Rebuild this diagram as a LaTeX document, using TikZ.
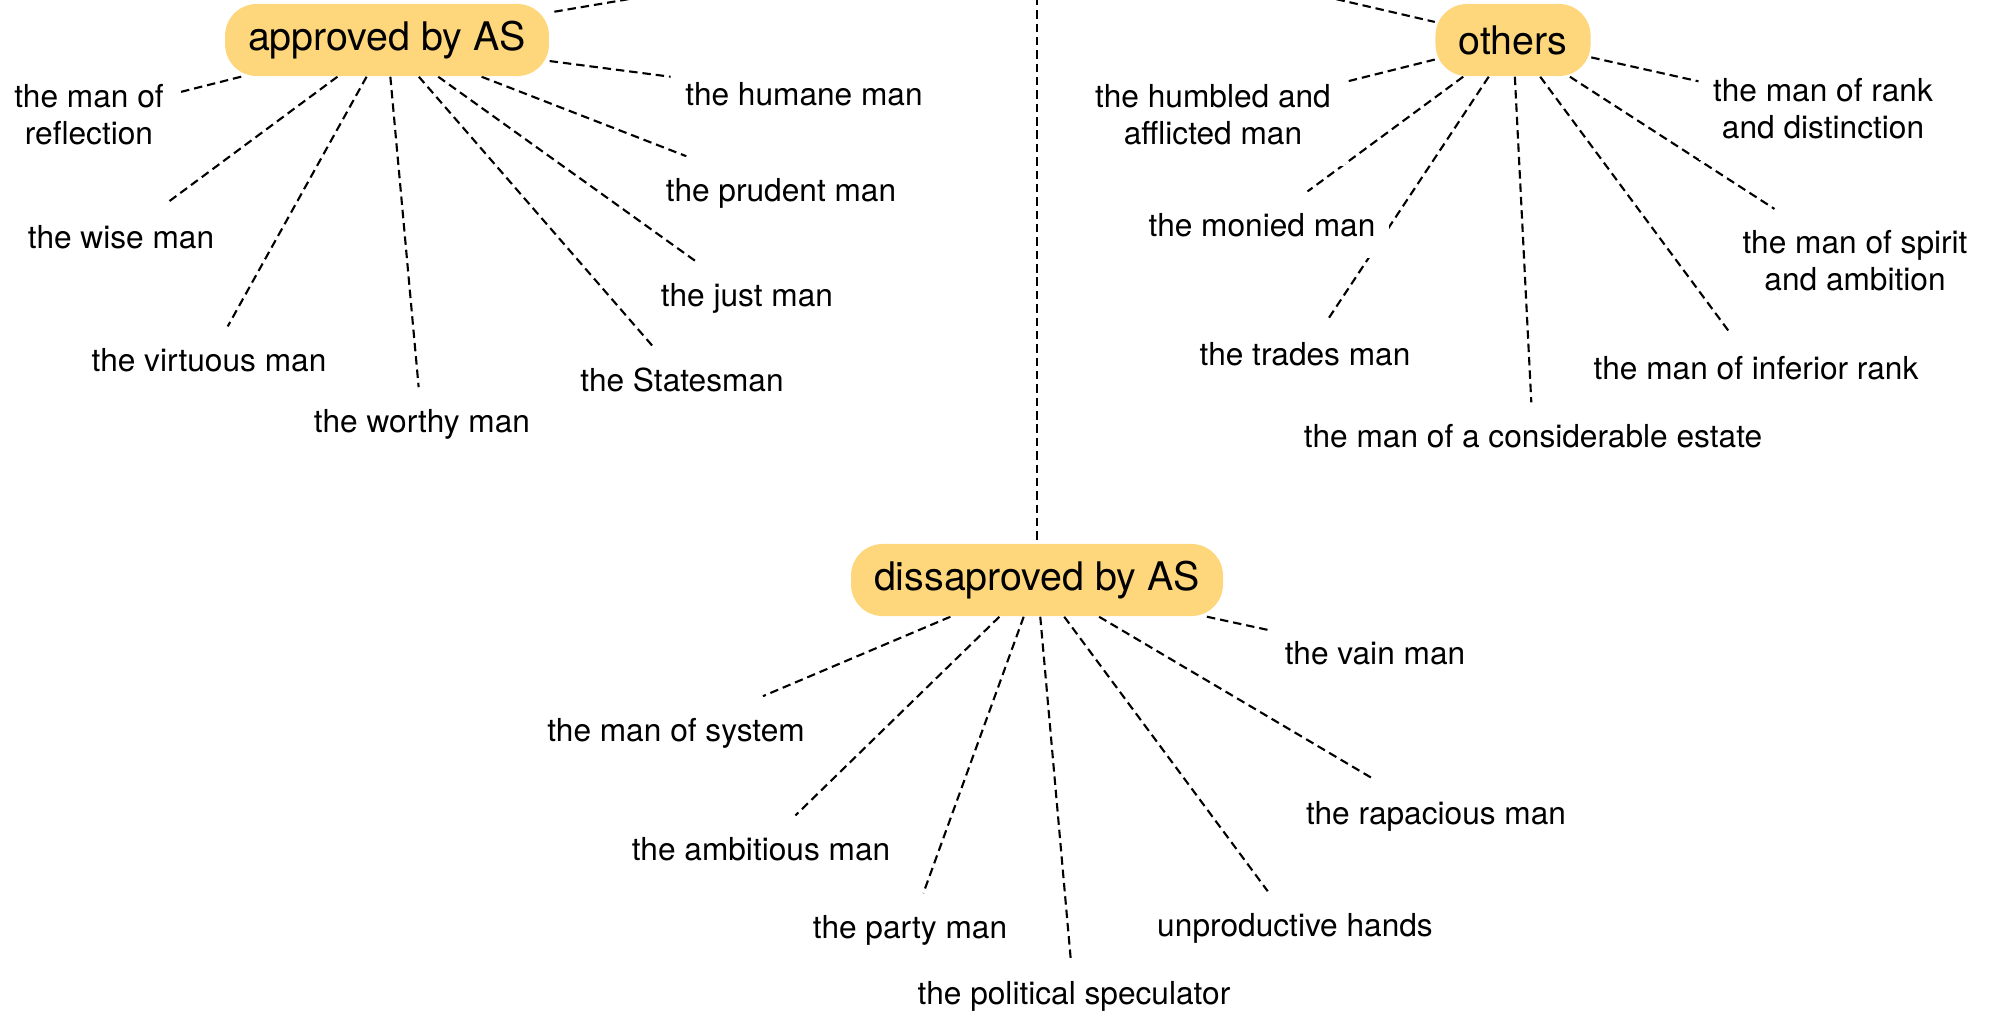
\documentclass[tikz,border=0pt]{standalone}
\usepackage{fontspec}
\setmainfont{TeX Gyre Heros}
\usetikzlibrary{backgrounds}
\definecolor{hubfill}{RGB}{254,214,124}
\tikzset{
  hubbox/.style={rectangle, rounded corners=9pt, fill=hubfill, minimum height=0.72cm, inner xsep=0.23cm, font=\fontsize{11.2}{13}\selectfont},
  leaf/.style={fill=white, inner xsep=4pt, inner ysep=6pt, align=center, font=\fontsize{9}{10.5}\selectfont},
  link/.style={dash pattern=on 2.4pt off 1.4pt, line width=0.6pt},
}
\begin{document}
\begin{tikzpicture}[x=0.01cm, y=-0.01cm]
  \clip (0,0) rectangle (1995,1015);

  % root sits above the visible part
  \coordinate (root) at (1037,-70);

  %% --- hubs ---
  \node[hubbox] (appr) at (387,40) {approved by AS};
  \node[hubbox] (oth) at (1513,40) {others};
  \node[hubbox] (dis) at (1037,580) {dissaproved by AS};

  %% --- approved by AS ---
  \node[leaf] (refl) at (89,115) {the man of\\reflection};
  \node[leaf] (humane) at (804,94) {the humane man};
  \node[leaf] (wise) at (121,237) {the wise man};
  \node[leaf] (prudent) at (781,193) {the prudent man};
  \node[leaf] (virt) at (209,360) {the virtuous man};
  \node[leaf] (just) at (747,298) {the just man};
  \node[leaf] (worthy) at (422,424) {the worthy man};
  \node[leaf] (states) at (682,380) {the Statesman};

  %% --- others ---
  \node[leaf] (humbled) at (1213,115) {the humbled and\\afflicted man};
  \node[leaf] (rank) at (1823,109) {the man of rank\\and distinction};
  \node[leaf] (monied) at (1262,225) {the monied man};
  \node[leaf] (spirit) at (1855,261) {the man of spirit\\and ambition};
  \node[leaf] (trades) at (1305,354) {the trades man};
  \node[leaf] (estate) at (1533,436) {the man of a considerable estate};
  \node[leaf] (inferior) at (1756,368) {the man of inferior rank};

  %% --- dissaproved by AS ---
  \node[leaf] (vain) at (1375,653) {the vain man};
  \node[leaf] (system) at (676,733) {the man of system};
  \node[leaf] (rapac) at (1436,816) {the rapacious man};
  \node[leaf] (ambit) at (761,849) {the ambitious man};
  \node[leaf] (unprod) at (1295,928) {unproductive hands};
  \node[leaf] (party) at (910,930) {the party man};
  \node[leaf] (spec) at (1074,996) {the political speculator};

  %% --- connectors (behind the labels) ---
  \begin{scope}[on background layer]
    \foreach \h in {appr,oth,dis} \draw[link] (root) -- (\h);
    \foreach \n in {refl,humane,wise,prudent,virt,just,worthy,states}
      \draw[link] (appr) -- (\n);
    \foreach \n in {humbled,rank,monied,spirit,trades,estate,inferior}
      \draw[link] (oth) -- (\n);
    \foreach \n in {vain,system,rapac,ambit,unprod,party,spec}
      \draw[link] (dis) -- (\n);
  \end{scope}
\end{tikzpicture}
\end{document}
